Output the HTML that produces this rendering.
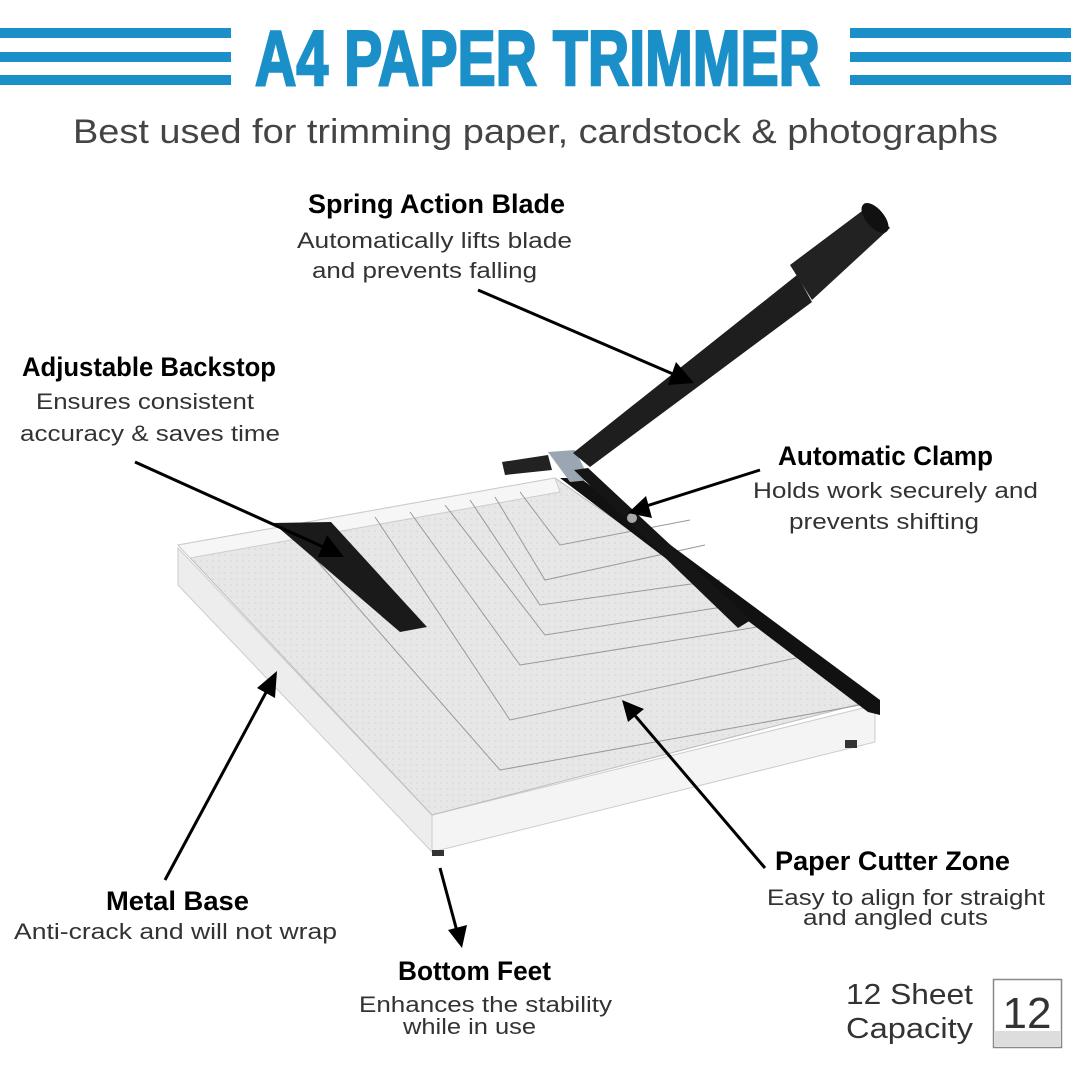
<!DOCTYPE html>
<html><head><meta charset="utf-8"><style>
html,body{margin:0;padding:0;background:#fff;}
svg{display:block;}
.h{font-family:"Liberation Sans Narrow","Liberation Sans",sans-serif;font-weight:bold;fill:#000;}
.d{font-family:"Liberation Sans",sans-serif;fill:#333;}
</style></head><body>
<svg width="1071" height="1070" viewBox="0 0 1071 1070" xmlns="http://www.w3.org/2000/svg">
<defs>
<pattern id="grid" width="6" height="6" patternUnits="userSpaceOnUse"><rect width="6" height="6" fill="#e6e7e6"/><circle cx="3" cy="3" r="0.6" fill="#c8c8c8"/></pattern>
</defs>
<g fill="#1a8fc8">
<rect x="0" y="28" width="231" height="10"/><rect x="0" y="52" width="231" height="10"/><rect x="0" y="75" width="231" height="10"/>
<rect x="850" y="28" width="221" height="10"/><rect x="850" y="52" width="221" height="10"/><rect x="850" y="75" width="221" height="10"/>
</g>
<text x="255" y="85" class="h" font-size="78" style="fill:#1a8fc8;stroke:#1a8fc8;stroke-width:2.5" textLength="565" lengthAdjust="spacingAndGlyphs">A4 PAPER TRIMMER</text>
<text x="73" y="143" class="d" font-size="34" style="fill:#444" textLength="925" lengthAdjust="spacingAndGlyphs">Best used for trimming paper, cardstock &amp; photographs</text>

<polygon points="178,548 432,815 432,852 178,585" fill="#ededed" stroke="#ccc"/>
<polygon points="432,815 875,705 875,742 432,852" fill="#f4f4f4" stroke="#ccc"/>
<polygon points="178,545 555,478 875,700 432,815" fill="url(#grid)" stroke="#bbb"/>
<polygon points="178,545 555,478 560,492 190,558" fill="#f6f6f6" stroke="#ccc"/>
<g stroke="#999" stroke-width="1" fill="none">
<polyline points="520,492 560,545 690,520"/>
<polyline points="495,497 545,580 705,545"/>
<polyline points="470,500 540,605 720,580"/>
<polyline points="445,505 545,635 735,605"/>
<polyline points="410,512 520,665 770,625"/>
<polyline points="375,517 510,720 810,655"/>
<polyline points="290,530 500,770 860,705"/>
</g>
<rect x="845" y="740" width="12" height="8" fill="#333"/>
<rect x="432" y="850" width="12" height="6" fill="#333"/>
<polygon points="560,478 580,478 880,700 880,715 868,712" fill="#111"/>
<polygon points="548,452 575,450 590,480 570,482" fill="#9aa7b3"/>
<polygon points="574,470 588,468 751,620 738,628" fill="#151515"/>
<circle cx="632" cy="518" r="5" fill="#aaa"/>
<polygon points="502,462 548,455 552,470 505,475" fill="#222"/>
<polygon points="573,453 797,275 812,302 590,467" fill="#1e1e1e"/>
<polygon points="790,265 870,205 890,228 812,300" fill="#222"/>
<ellipse cx="875" cy="218" rx="9" ry="18" transform="rotate(-40 875 218)" fill="#111"/>
<polygon points="273,523 331,522 427,627 400,632" fill="#1a1a1a"/>

<g stroke="#000" stroke-width="3" fill="none">
<line x1="478" y1="290" x2="680" y2="377"/>
<line x1="135" y1="462" x2="330" y2="550"/>
<line x1="760" y1="470" x2="640" y2="508"/>
<line x1="165" y1="880" x2="270" y2="685"/>
<line x1="440" y1="868" x2="458" y2="935"/>
<line x1="765" y1="868" x2="632" y2="712"/>
</g>
<g fill="#000">
<polygon points="694,383 668,385 676,362"/>
<polygon points="344,557 318,557 327,535"/>
<polygon points="628,513 646,496 652,518"/>
<polygon points="277,671 275,698 257,688"/>
<polygon points="462,948 448,930 467,925"/>
<polygon points="622,700 644,709 628,722"/>
</g>

<text x="308" y="213" class="h" font-size="27" textLength="257" lengthAdjust="spacingAndGlyphs">Spring  Action  Blade</text>
<text x="297" y="248" class="d" font-size="22" textLength="275" lengthAdjust="spacingAndGlyphs">Automatically lifts blade</text>
<text x="312" y="278" class="d" font-size="22" textLength="225" lengthAdjust="spacingAndGlyphs">and prevents falling</text>

<text x="22" y="376" class="h" font-size="27" textLength="254" lengthAdjust="spacingAndGlyphs">Adjustable  Backstop</text>
<text x="36" y="409" class="d" font-size="22" textLength="218" lengthAdjust="spacingAndGlyphs">Ensures consistent</text>
<text x="20" y="441" class="d" font-size="22" textLength="260" lengthAdjust="spacingAndGlyphs">accuracy &amp; saves time</text>

<text x="778" y="465" class="h" font-size="27" textLength="215" lengthAdjust="spacingAndGlyphs">Automatic  Clamp</text>
<text x="753" y="498" class="d" font-size="22" textLength="285" lengthAdjust="spacingAndGlyphs">Holds work securely and</text>
<text x="789" y="529" class="d" font-size="22" textLength="190" lengthAdjust="spacingAndGlyphs">prevents shifting</text>

<text x="106" y="910" class="h" font-size="27" textLength="143" lengthAdjust="spacingAndGlyphs">Metal  Base</text>
<text x="14" y="939" class="d" font-size="22" textLength="323" lengthAdjust="spacingAndGlyphs">Anti-crack and will not wrap</text>

<text x="398" y="980" class="h" font-size="27" textLength="153" lengthAdjust="spacingAndGlyphs">Bottom  Feet</text>
<text x="359" y="1012" class="d" font-size="22" textLength="253" lengthAdjust="spacingAndGlyphs">Enhances the stability</text>
<text x="403" y="1034" class="d" font-size="22" textLength="133" lengthAdjust="spacingAndGlyphs">while in use</text>

<text x="775" y="870" class="h" font-size="27" textLength="235" lengthAdjust="spacingAndGlyphs">Paper  Cutter  Zone</text>
<text x="767" y="905" class="d" font-size="22" textLength="278" lengthAdjust="spacingAndGlyphs">Easy to align for straight</text>
<text x="803" y="925" class="d" font-size="22" textLength="185" lengthAdjust="spacingAndGlyphs">and angled cuts</text>

<text x="846" y="1004" class="d" font-size="29" textLength="127" lengthAdjust="spacingAndGlyphs">12 Sheet</text>
<text x="846" y="1038" class="d" font-size="29" textLength="127" lengthAdjust="spacingAndGlyphs">Capacity</text>
<rect x="993.5" y="979.5" width="68" height="68" fill="#fff" stroke="#888" stroke-width="1.5"/>
<rect x="995" y="1031" width="65" height="15" fill="#ddd"/>
<text x="1027" y="1028" class="d" font-size="44" text-anchor="middle">12</text>
</svg>
</body></html>
